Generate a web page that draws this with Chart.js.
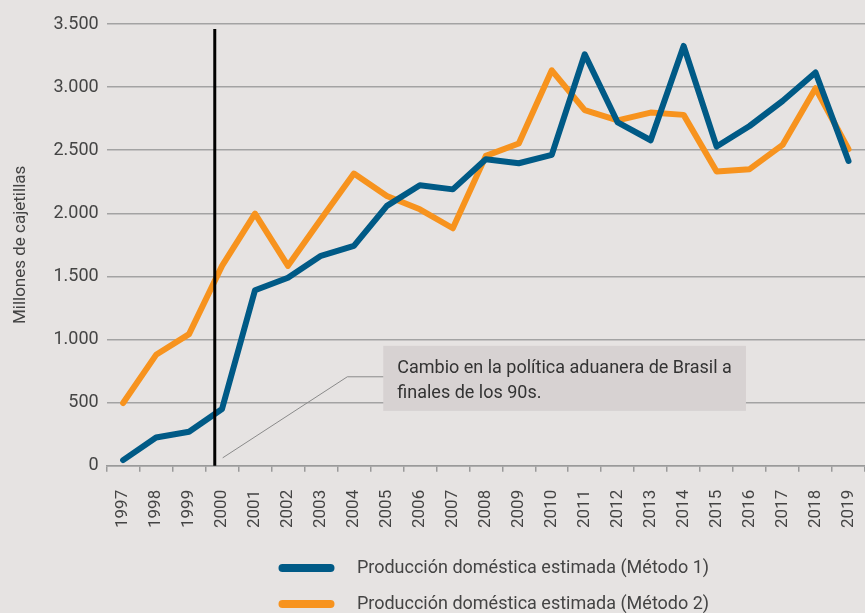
<!DOCTYPE html>
<html lang="es">
<head>
  <meta charset="UTF-8" />
  <title>Producción doméstica estimada</title>
  <script src="https://cdn.jsdelivr.net/npm/chart.js"></script>
  <style>
    html, body {
      margin: 0;
      padding: 0;
      background: #e6e3e2;
    }
    #wrap {
      width: 865px;
      height: 613px;
    }
  </style>
</head>
<body>
  <div id="wrap"><canvas id="chart" width="865" height="613"></canvas></div>

  <script>
    const years = ['1997', '1998', '1999', '2000', '2001', '2002', '2003', '2004', '2005', '2006', '2007', '2008',
                   '2009', '2010', '2011', '2012', '2013', '2014', '2015', '2016', '2017', '2018', '2019'];
    const metodo1 = [45, 224, 269, 450, 1391, 1490, 1663, 1742, 2059, 2222, 2190, 2428,
                     2397, 2463, 3260, 2720, 2579, 3326, 2529, 2692, 2890, 3116, 2415];
    const metodo2 = [497, 879, 1043, 1584, 1998, 1584, 1953, 2315, 2138, 2032, 1882, 2455,
                     2553, 3133, 2817, 2737, 2798, 2780, 2331, 2350, 2542, 2991, 2508];
    const seriesNames = ['Producción doméstica estimada (Método 1)', 'Producción doméstica estimada (Método 2)'];
    const yTitle = 'Millones de cajetillas';

    // note: positions in data units (category index, value)
    const marker = { at: 2.78, top: 3460 };
    const noteBox = { x0: 7.89, x1: 18.89, top: 950, bottom: 435 };
    const noteLink = [[3.02, 63], [6.8, 705], [7.89, 705]];
    const noteText = ['Cambio en la política aduanera de Brasil a', 'finales de los 90s.'];

    const BLUE = '#005a86';
    const ORANGE = '#f7931e';
    const FONT = 'Roboto, "Noto Sans", sans-serif';

    const fmt = v => String(v).replace(/\B(?=(\d{3})+(?!\d))/g, '.');

    const notePlugin = {
      id: 'notes',
      afterLayout(chart) {
        // legend sits a little right of the plot centre
        chart.legend.left += 8;
        chart.legend.right += 8;
      },
      afterDatasetsDraw(chart) {
        const { ctx, scales: { x, y } } = chart;
        ctx.save();

        // note box
        const bx = x.getPixelForValue(noteBox.x0);
        const by = y.getPixelForValue(noteBox.top);
        const bw = x.getPixelForValue(noteBox.x1) - bx;
        const bh = y.getPixelForValue(noteBox.bottom) - by;
        ctx.fillStyle = '#d7d2d2';
        ctx.fillRect(bx, by, bw, bh);

        ctx.fillStyle = '#333';
        ctx.font = '18px ' + FONT;
        ctx.textBaseline = 'alphabetic';
        noteText.forEach((t, i) => ctx.fillText(t, bx + 14, by + 27 + i * 25));

        // connector
        ctx.strokeStyle = '#8a8a8a';
        ctx.lineWidth = 1;
        ctx.beginPath();
        noteLink.forEach(([a, b], i) => {
          const px = x.getPixelForValue(a), py = y.getPixelForValue(b);
          i ? ctx.lineTo(px, py) : ctx.moveTo(px, py);
        });
        ctx.stroke();

        // vertical marker line
        const mx = x.getPixelForValue(marker.at);
        ctx.strokeStyle = '#000';
        ctx.lineWidth = 3;
        ctx.beginPath();
        ctx.moveTo(mx, y.getPixelForValue(marker.top));
        ctx.lineTo(mx, y.getPixelForValue(0));
        ctx.stroke();

        ctx.restore();
      }
    };

    new Chart(document.getElementById('chart'), {
      type: 'line',
      data: {
        labels: years,
        datasets: [
          { label: seriesNames[0], data: metodo1, borderColor: BLUE, backgroundColor: BLUE },
          { label: seriesNames[1], data: metodo2, borderColor: ORANGE, backgroundColor: ORANGE }
        ]
      },
      options: {
        responsive: false,
        animation: false,
        layout: { padding: { top: 24, right: 0, bottom: -10, left: 7 } },
        elements: {
          line: { borderWidth: 6, tension: 0, borderJoinStyle: 'round', borderCapStyle: 'round' },
          point: { radius: 0 }
        },
        scales: {
          x: {
            offset: true,
            grid: { offset: true, drawOnChartArea: false, color: '#9a9a9a', tickLength: 6, lineWidth: 1.5 },
            border: { color: '#9a9a9a', width: 1.5 },
            ticks: {
              minRotation: 90, maxRotation: 90, autoSkip: false, padding: 18,
              color: '#444', font: { family: FONT, size: 17 }
            },
            afterFit: s => { s.height -= 5; s.paddingRight = 0; s.paddingLeft = 0; }
          },
          y: {
            min: 0, max: 3500,
            grid: { color: '#a3a3a3', lineWidth: 1.5, drawTicks: false },
            border: { display: false },
            ticks: {
              stepSize: 500, padding: 8, color: '#444',
              font: { family: FONT, size: 18 },
              callback: v => fmt(v)
            },
            title: { display: true, text: yTitle, color: '#444', font: { family: FONT, size: 17 }, padding: { bottom: 14 } }
          }
        },
        plugins: {
          legend: {
            position: 'bottom',
            fullSize: false,
            labels: {
              boxWidth: 56, boxHeight: 8, padding: 18, color: '#444',
              font: { family: FONT, size: 18 },
              useBorderRadius: true, borderRadius: 4,
              generateLabels: chart => chart.data.datasets.map((d, i) => ({
                text: '   ' + d.label, fillStyle: d.borderColor, strokeStyle: d.borderColor,
                lineWidth: 0, datasetIndex: i, hidden: false, fontColor: '#444',
                borderRadius: 4
              }))
            }
          },
          tooltip: { enabled: false }
        }
      },
      plugins: [notePlugin]
    });
  </script>
</body>
</html>
